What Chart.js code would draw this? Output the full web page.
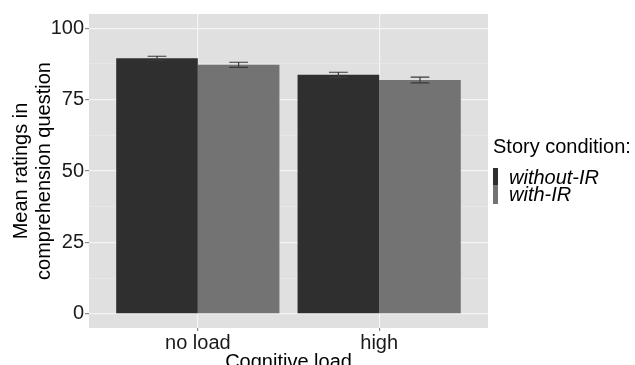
<!DOCTYPE html>
<html>
<head>
<meta charset="utf-8">
<script src="https://cdn.jsdelivr.net/npm/chart.js@4.4.0/dist/chart.umd.min.js"></script>
<style>
  html, body { margin: 0; padding: 0; background: #fff; }
  #wrap { width: 635px; height: 365px; }
</style>
</head>
<body>
<div id="wrap"><canvas id="chart" width="635" height="365"></canvas></div>
<script>
// data
var loadLabels = ['no load', 'high'];
var loadPos = [1, 2];
var withoutIR = [89.5, 83.7];
var withIR = [87.2, 81.9];
var withoutIRse = [0.7, 0.9];
var withIRse = [0.9, 1.0];
var yTicks = [0, 12.5, 25, 37.5, 50, 62.5, 75, 87.5, 100];

var seriesNames = ['without-IR', 'with-IR'];
var seriesColors = ['#2f2f2f', '#737373'];

var FONT = '"Liberation Sans", Arial, sans-serif';

function points(vals) {
    return vals.map(function (v, i) { return { x: loadPos[i], y: v }; });
}

var panelBg = {
    id: 'panelBg',
    beforeDraw: function (chart) {
        var a = chart.chartArea, ctx = chart.ctx;
        ctx.save();
        ctx.fillStyle = '#e0e0e0';
        ctx.fillRect(a.left, a.top, a.right - a.left, a.bottom - a.top);
        ctx.restore();
    }
};

var errorBars = {
    id: 'errorBars',
    afterDatasetsDraw: function (chart) {
        var ctx = chart.ctx, y = chart.scales.y;
        chart.data.datasets.forEach(function (ds, i) {
            var meta = chart.getDatasetMeta(i);
            meta.data.forEach(function (bar, j) {
                var m = ds.data[j].y, se = ds.se[j];
                var hi = y.getPixelForValue(m + se), lo = y.getPixelForValue(m - se);
                var half = bar.width * 0.115;
                ctx.save();
                ctx.strokeStyle = '#3a3a3a';
                ctx.lineWidth = 1.2;
                ctx.beginPath();
                ctx.moveTo(bar.x - half, hi); ctx.lineTo(bar.x + half, hi);
                ctx.moveTo(bar.x - half, lo); ctx.lineTo(bar.x + half, lo);
                ctx.moveTo(bar.x, hi); ctx.lineTo(bar.x, lo);
                ctx.stroke();
                ctx.restore();
            });
        });
    }
};

var sideLegend = {
    id: 'sideLegend',
    afterDraw: function (chart) {
        var ctx = chart.ctx;
        var x0 = chart.chartArea.right + 5;
        ctx.save();
        ctx.fillStyle = '#000';
        ctx.textBaseline = 'alphabetic';
        ctx.font = '20px ' + FONT;
        ctx.fillText('Story condition:', x0, 153);
        ctx.font = 'italic 20px ' + FONT;
        var top = 168, h = [17, 19];
        seriesNames.forEach(function (name, i) {
            ctx.fillStyle = seriesColors[i];
            ctx.fillRect(x0, top, 5, h[i]);
            ctx.fillStyle = '#000';
            ctx.fillText(name, x0 + 16, top + 16);
            top += h[i];
        });
        ctx.restore();
    }
};

new Chart(document.getElementById('chart'), {
    type: 'bar',
    data: {
        datasets: [
            { label: seriesNames[0], data: points(withoutIR), se: withoutIRse, backgroundColor: seriesColors[0] },
            { label: seriesNames[1], data: points(withIR), se: withIRse, backgroundColor: seriesColors[1] }
        ]
    },
    options: {
        responsive: false,
        animation: false,
        devicePixelRatio: 1,
        categoryPercentage: 0.9,
        barPercentage: 1.0,
        layout: { padding: { top: 14, right: 147, left: 0, bottom: 0 } },
        plugins: { legend: { display: false }, tooltip: { enabled: false } },
        scales: {
            x: {
                type: 'linear',
                min: 0.4,
                max: 2.6,
                offset: false,
                afterBuildTicks: function (s) { s.ticks = loadPos.map(function (v) { return { value: v }; }); },
                afterFit: function (s) { s.height = 37; },
                ticks: {
                    callback: function (v) { return loadLabels[loadPos.indexOf(v)]; },
                    font: { family: FONT, size: 20 },
                    color: '#1a1a1a',
                    padding: 0
                },
                grid: { offset: false, color: '#f4f4f4', lineWidth: 1.2, tickLength: 3, tickColor: '#888' },
                border: { display: false },
                title: {
                    display: true,
                    text: 'Cognitive load',
                    font: { family: FONT, size: 20 },
                    color: '#000',
                    padding: { top: 0, bottom: -9 }
                }
            },
            y: {
                min: -5,
                max: 105,
                afterBuildTicks: function (s) { s.ticks = yTicks.map(function (v) { return { value: v }; }); },
                afterFit: function (s) { s.width = 89; },
                ticks: {
                    callback: function (v) { return v % 25 === 0 ? String(v) : ''; },
                    font: { family: FONT, size: 20 },
                    color: '#1a1a1a',
                    padding: 1
                },
                grid: {
                    color: function (c) { return c.tick && c.tick.value % 25 === 0 ? '#f4f4f4' : '#e9e9e9'; },
                    lineWidth: function (c) { return c.tick && c.tick.value % 25 === 0 ? 1.2 : 0.7; },
                    tickLength: 4,
                    tickColor: function (c) { return c.tick && c.tick.value % 25 === 0 ? '#888' : 'rgba(0,0,0,0)'; }
                },
                border: { display: false },
                title: {
                    display: true,
                    text: ['Mean ratings in', 'comprehension question'],
                    font: { family: FONT, size: 20, lineHeight: 1.15 },
                    color: '#000',
                    padding: { top: 10, bottom: 0 }
                }
            }
        }
    },
    plugins: [panelBg, errorBars, sideLegend]
});
</script>
</body>
</html>
